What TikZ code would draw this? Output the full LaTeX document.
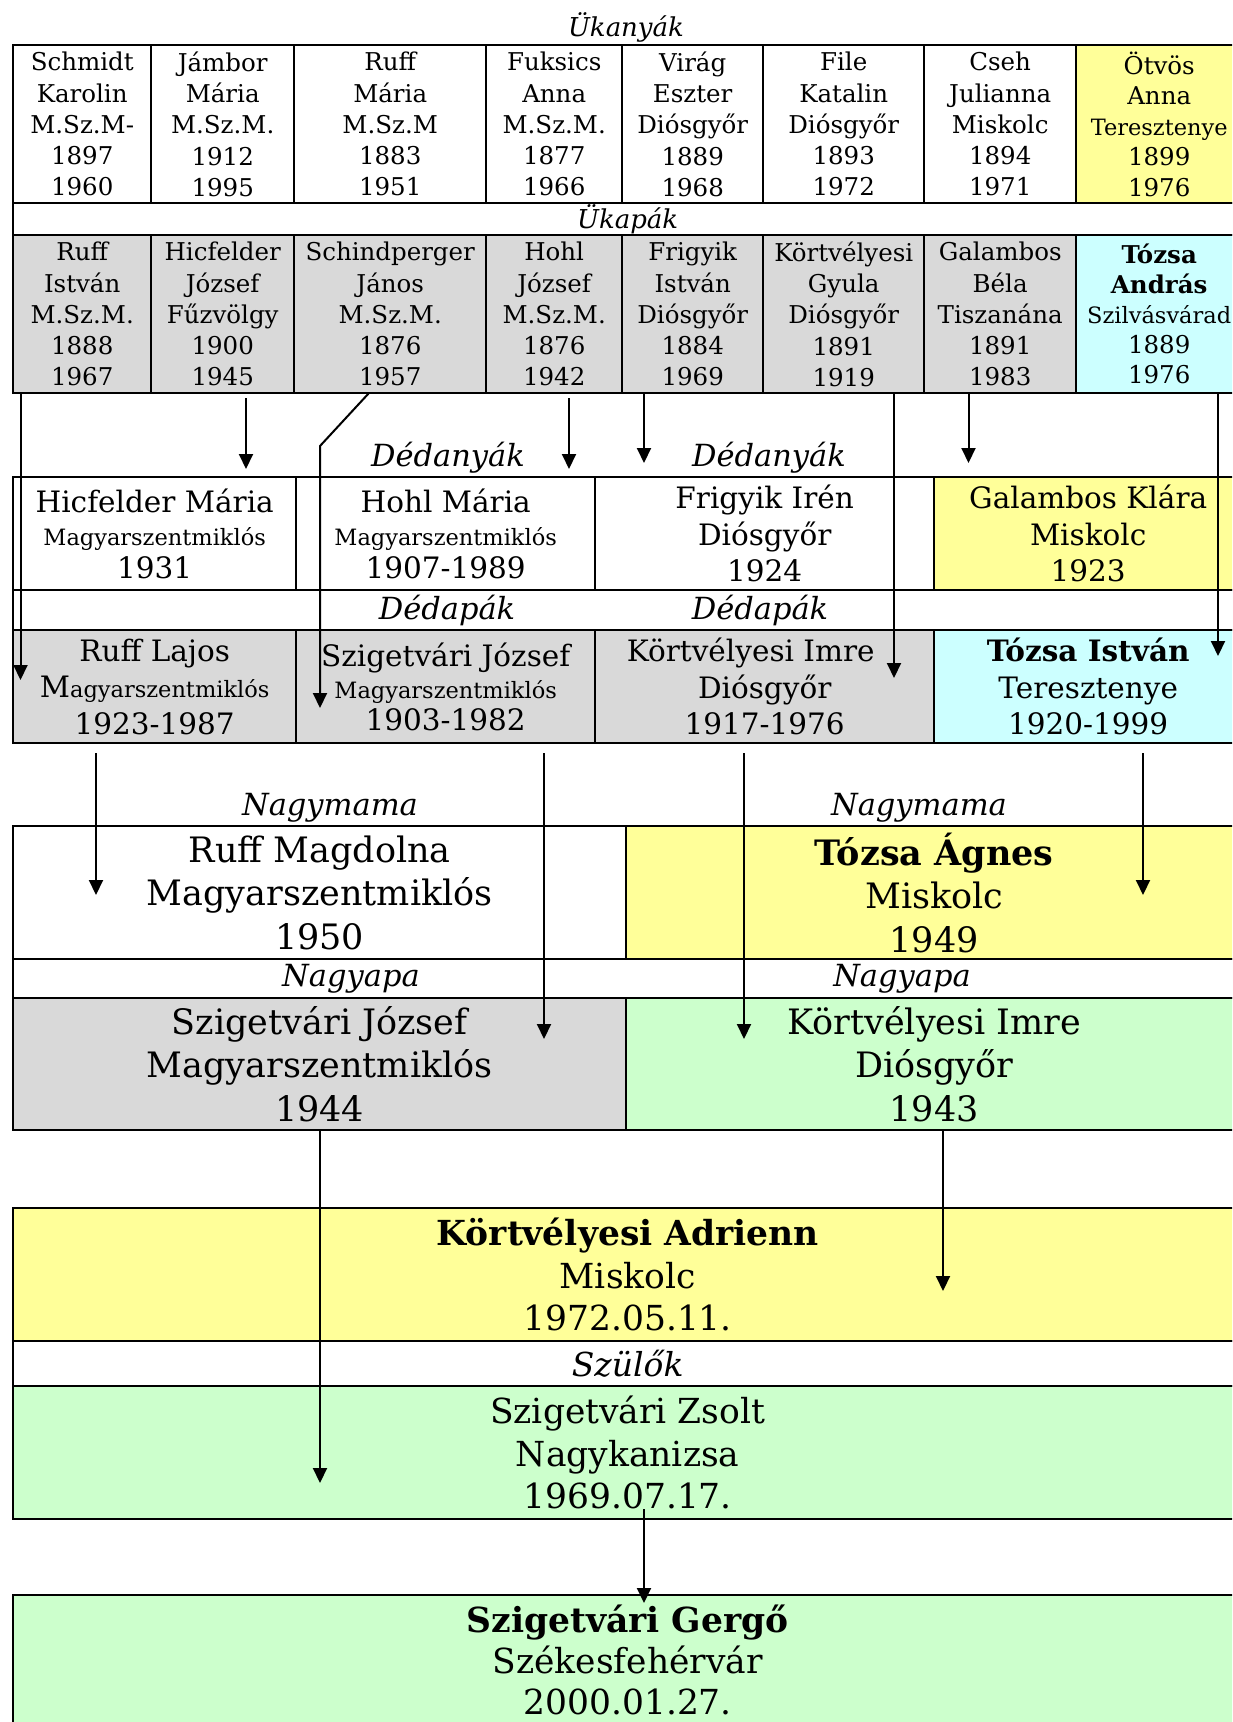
\documentclass[tikz,border=0pt]{standalone}
\usepackage{fontspec}
\setmainfont{DejaVu Serif}
\usepackage{xcolor}
\usetikzlibrary{positioning, arrows.meta}

\definecolor{cellgray}{RGB}{217,217,217}
\definecolor{cellyellow}{RGB}{255,255,153}
\definecolor{cellcyan}{RGB}{204,255,255}
\definecolor{cellgreen}{RGB}{204,255,204}

\tikzset{
  box/.style = {draw, line width=2.4pt, inner sep=0pt, anchor=north west, align=center},
  genuk/.style = {font=\fontsize{24.5}{31.3}\selectfont},
  gended/.style = {font=\fontsize{29.5}{36.5}\selectfont},
  gennagy/.style = {font=\fontsize{35}{43.5}\selectfont},
  genszulo/.style = {font=\fontsize{34.5}{42.5}\selectfont},
  title/.style = {font=\itshape\fontsize{26}{30}\selectfont},
  bigtitle/.style = {font=\itshape\fontsize{30.5}{34}\selectfont},
  arr/.style = {line width=2pt, -{Triangle[length=15pt, width=14pt]}}
}
\newcommand{\smalltown}[1]{{\fontsize{22.5}{29}\selectfont #1}}

\begin{document}
\begin{tikzpicture}[x=1pt, y=-1pt]
\useasboundingbox (0,0) rectangle (1232,1722);
\clip (0,0) rectangle (1232,1722);

% Ukanyak
\node [title] (ukanyak) at (626,27) {Ükanyák};
\node [box, genuk, minimum width=138, minimum height=158] (schmidt) at (12,44) {Schmidt\\Karolin\\M.Sz.M-\\1897\\1960};
\node [box, genuk, minimum width=143, minimum height=158] (jambor) at (150,44) {Jámbor\\Mária\\M.Sz.M.\\1912\\1995};
\node [box, genuk, minimum width=192, minimum height=158] (ruffm) at (293,44) {Ruff\\Mária\\M.Sz.M\\1883\\1951};
\node [box, genuk, minimum width=136, minimum height=158] (fuksics) at (485,44) {Fuksics\\Anna\\M.Sz.M.\\1877\\1966};
\node [box, genuk, minimum width=141, minimum height=158] (virag) at (621,44) {Virág\\Eszter\\Diósgyőr\\1889\\1968};
\node [box, genuk, minimum width=161, minimum height=158] (file) at (762,44) {File\\Katalin\\Diósgyőr\\1893\\1972};
\node [box, genuk, minimum width=152, minimum height=158] (cseh) at (923,44) {Cseh\\Julianna\\Miskolc\\1894\\1971};
\node [box, font=\fontsize{24.5}{30.5}\selectfont, fill=cellyellow, minimum width=166, minimum height=158] (otvos) at (1075,44) {Ötvös\\Anna\\\smalltown{Teresztenye}\\1899\\1976};

% Ukapak
\node [box, title, minimum width=1229, minimum height=32] (ukapak) at (12,202) {Ükapák};
\node [box, genuk, fill=cellgray, minimum width=138, minimum height=158] (ruffi) at (12,234) {Ruff\\István\\M.Sz.M.\\1888\\1967};
\node [box, genuk, fill=cellgray, minimum width=143, minimum height=158] (hicfj) at (150,234) {Hicfelder\\József\\Fűzvölgy\\1900\\1945};
\node [box, genuk, fill=cellgray, minimum width=192, minimum height=158] (schindp) at (293,234) {Schindperger\\János\\M.Sz.M.\\1876\\1957};
\node [box, genuk, fill=cellgray, minimum width=136, minimum height=158] (hohlj) at (485,234) {Hohl\\József\\M.Sz.M.\\1876\\1942};
\node [box, genuk, fill=cellgray, minimum width=141, minimum height=158] (frigyiki) at (621,234) {Frigyik\\István\\Diósgyőr\\1884\\1969};
\node [box, genuk, fill=cellgray, minimum width=161, minimum height=158] (kortgy) at (762,234) {Körtvélyesi\\Gyula\\Diósgyőr\\1891\\1919};
\node [box, genuk, fill=cellgray, minimum width=152, minimum height=158] (galambosb) at (923,234) {Galambos\\Béla\\Tiszanána\\1891\\1983};
\node [box, font=\fontsize{24.5}{30}\selectfont, fill=cellcyan, minimum width=166, minimum height=158] (tozsaa) at (1075,234) {\textbf{Tózsa}\\\textbf{András}\\\smalltown{Szilvásvárad}\\1889\\1976};

% Dedanyak
\node [bigtitle] (dedanya1) at (448,458) {Dédanyák};
\node [bigtitle] (dedanya2) at (769,458) {Dédanyák};
\node [box, font=\fontsize{29.5}{33}\selectfont, minimum width=283, minimum height=113] (hicfm) at (12,476) {Hicfelder Mária\\\smalltown{Magyarszentmiklós}\\1931};
\node [box, font=\fontsize{29.5}{33}\selectfont, minimum width=299, minimum height=113] (hohlm) at (295,476) {Hohl Mária\\\smalltown{Magyarszentmiklós}\\1907-1989};
\node [box, gended, minimum width=339, minimum height=113] (frigyikir) at (594,476) {Frigyik Irén\\Diósgyőr\\1924};
\node [box, gended, fill=cellyellow, minimum width=308, minimum height=113] (galambosk) at (933,476) {Galambos Klára\\Miskolc\\1923};

% Dedapak
\node [box, minimum width=1229, minimum height=40] (dedapa) at (12,589) {};
\node [bigtitle] (dedapa1) at (447,610) {Dédapák};
\node [bigtitle] (dedapa2) at (760,610) {Dédapák};
\node [box, gended, fill=cellgray, minimum width=283, minimum height=113] (rufflajos) at (12,629) {Ruff Lajos\\M\smalltown{agyarszentmiklós}\\1923-1987};
\node [box, font=\fontsize{29.5}{32}\selectfont, fill=cellgray, minimum width=299, minimum height=113] (szigj1) at (295,629) {Szigetvári József\\\smalltown{Magyarszentmiklós}\\1903-1982};
\node [box, gended, fill=cellgray, minimum width=339, minimum height=113] (korti1) at (594,629) {Körtvélyesi Imre\hspace*{28pt}\\Diósgyőr\\1917-1976};
\node [box, gended, fill=cellcyan, minimum width=308, minimum height=113] (tozsai) at (933,629) {\textbf{Tózsa István}\\Teresztenye\\1920-1999};

% Nagyszulok
\node [bigtitle] (nagymama1) at (330,808) {Nagymama};
\node [bigtitle] (nagymama2) at (919,808) {Nagymama};
\node [box, gennagy, minimum width=613, minimum height=133] (ruffmag) at (12,825) {Ruff Magdolna\\Magyarszentmiklós\\1950};
\node [box, gennagy, fill=cellyellow, minimum width=616, minimum height=133] (tozsaag) at (625,825) {\textbf{Tózsa Ágnes}\\Miskolc\\1949};
\node [box, minimum width=1229, minimum height=39] (nagyapa) at (12,958) {};
\node [bigtitle] (nagyapa1) at (351,979) {Nagyapa};
\node [bigtitle] (nagyapa2) at (902,979) {Nagyapa};
\node [box, gennagy, fill=cellgray, minimum width=613, minimum height=132] (szigj2) at (12,997) {Szigetvári József\\Magyarszentmiklós\\1944};
\node [box, gennagy, fill=cellgreen, minimum width=616, minimum height=132] (korti2) at (625,997) {Körtvélyesi Imre\\Diósgyőr\\1943};

% Szulok
\node [box, genszulo, fill=cellyellow, minimum width=1229, minimum height=133] (adrienn) at (12,1207) {\textbf{Körtvélyesi Adrienn}\\Miskolc\\1972.05.11.};
\node [box, font=\itshape\fontsize{33}{36}\selectfont, minimum width=1229, minimum height=45] (szulok) at (12,1340) {Szülők};
\node [box, genszulo, fill=cellgreen, minimum width=1229, minimum height=133] (zsolt) at (12,1385) {Szigetvári Zsolt\\Nagykanizsa\\1969.07.17.};
\node [box, font=\fontsize{34.5}{41}\selectfont, fill=cellgreen, minimum width=1229, minimum height=130] (gergo) at (12,1594) {\textbf{Szigetvári Gergő}\\Székesfehérvár\\2000.01.27.};

% arrow ends
\coordinate (ruffi-out) at (20.5,393);
\coordinate (rufflajos-in) at (20.5,680);
\coordinate (hicfj-out) at (246,398);
\coordinate (hicfm-in) at (246,469);
\coordinate (schindp-out) at (369,393);
\coordinate (schindp-bend) at (320,446);
\coordinate (szigj1-in) at (320,708);
\coordinate (hohlj-out) at (569,398);
\coordinate (hohlm-in) at (569,469);
\coordinate (frigyiki-out) at (644,393);
\coordinate (frigyikir-in) at (644,463);
\coordinate (kortgy-out) at (894,393);
\coordinate (korti1-in) at (894,678);
\coordinate (galambosb-out) at (968.5,393);
\coordinate (galambosk-in) at (968.5,463);
\coordinate (tozsaa-out) at (1218,393);
\coordinate (tozsai-in) at (1218,656);

\coordinate (rufflajos-out) at (96,753);
\coordinate (ruffmag-in) at (96,895);
\coordinate (szigj1-out) at (544,753);
\coordinate (szigj2-in) at (544,1039);
\coordinate (korti1-out) at (744,753);
\coordinate (korti2-in) at (744,1039);
\coordinate (tozsai-out) at (1143,753);
\coordinate (tozsaag-in) at (1143,895);

\coordinate (szigj2-out) at (320,1129);
\coordinate (zsolt-in) at (320,1483);
\coordinate (korti2-out) at (943,1129);
\coordinate (adrienn-in) at (943,1291);
\coordinate (zsolt-out) at (644,1509);
\coordinate (gergo-in) at (644,1603);

\draw [arr] (ruffi-out) -- (rufflajos-in);
\draw [arr] (hicfj-out) -- (hicfm-in);
\draw [arr] (schindp-out) -- (schindp-bend) -- (szigj1-in);
\draw [arr] (hohlj-out) -- (hohlm-in);
\draw [arr] (frigyiki-out) -- (frigyikir-in);
\draw [arr] (kortgy-out) -- (korti1-in);
\draw [arr] (galambosb-out) -- (galambosk-in);
\draw [arr] (tozsaa-out) -- (tozsai-in);
\draw [arr] (rufflajos-out) -- (ruffmag-in);
\draw [arr] (szigj1-out) -- (szigj2-in);
\draw [arr] (korti1-out) -- (korti2-in);
\draw [arr] (tozsai-out) -- (tozsaag-in);
\draw [arr] (szigj2-out) -- (zsolt-in);
\draw [arr] (korti2-out) -- (adrienn-in);
\draw [arr] (zsolt-out) -- (gergo-in);
\end{tikzpicture}
\end{document}
